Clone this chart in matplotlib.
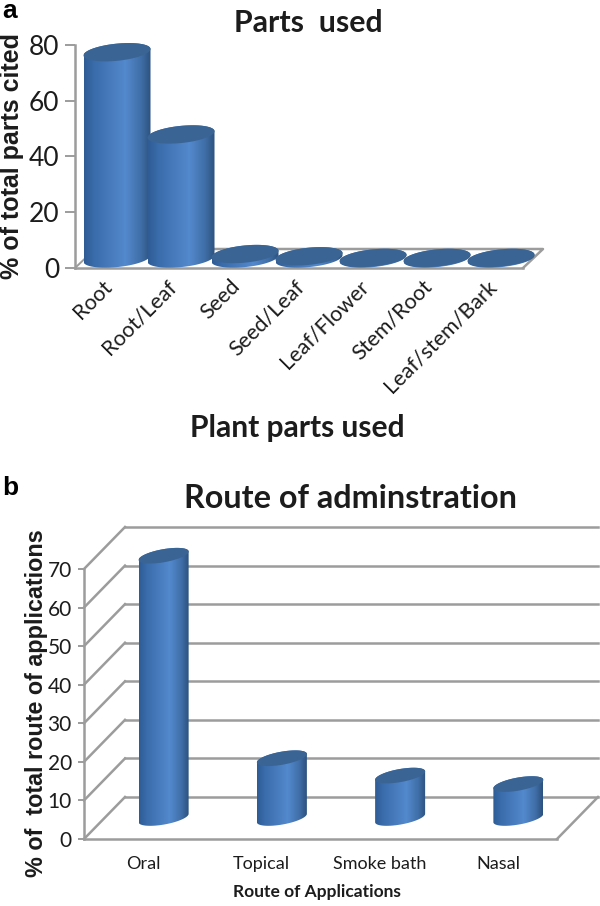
import numpy as np
import matplotlib
matplotlib.use("Agg")
import matplotlib.pyplot as plt
from matplotlib.colors import LinearSegmentedColormap
from matplotlib.patches import PathPatch
from matplotlib.path import Path
from matplotlib.transforms import ScaledTranslation

parts = ["Root", "Root/Leaf", "Seed", "Seed/Leaf", "Leaf/Flower", "Stem/Root", "Leaf/stem/Bark"]
parts_pct = [74, 44.5, 1.6, 0.8, 0.2, 0.2, 0.2]
parts_ticks = [0, 20, 40, 60, 80]

routes = ["Oral", "Topical", "Smoke bath", "Nasal"]
routes_pct = [68, 15.5, 11, 8.8]
routes_ticks = [0, 10, 20, 30, 40, 50, 60, 70]

W, H = 600, 906
GRAY = "#9c9c9c"
TEXT = "#1c1c1c"
SANS = "Lato"
ARIAL = "Liberation Sans"
cmap = LinearSegmentedColormap.from_list(
    "cyl", [(0, "#2f5c95"), (0.15, "#3a6cab"), (0.62, "#5389cd"), (0.85, "#406fa8"), (1, "#2c527f")])
TOP = "#3a6494"

fig = plt.figure(figsize=(W / 100, H / 100), dpi=100, facecolor="white")


def make_axes(x0, x1, y_top, y_bottom, n, ymax, ticks):
    ax = fig.add_axes([x0 / W, 1 - y_bottom / H, (x1 - x0) / W, (y_bottom - y_top) / H])
    ax.set_xlim(-0.5, n - 0.5)
    ax.set_ylim(0, ymax)
    ax.patch.set_alpha(0)
    for s in ("top", "right"):
        ax.spines[s].set_visible(False)
    for s in ("left", "bottom"):
        ax.spines[s].set_color(GRAY)
        ax.spines[s].set_linewidth(1.8)
    ax.set_yticks(ticks)
    return ax


def cylinder(ax, x, v, base, hw, b, s, ppx, ppy):
    """Tilted cylinder. hw/b/s in px, ppx/ppy = px per data unit."""
    t = np.linspace(0, 2 * np.pi, 121)
    ex = hw * np.cos(t) / ppx
    ey = (b * np.sin(t) + s * np.cos(t)) / ppy
    top_y = base + v
    low = np.linspace(np.pi, 2 * np.pi, 61)
    up = np.linspace(0, np.pi, 61)
    bx = np.r_[x + hw * np.cos(low) / ppx, x + hw * np.cos(up) / ppx]
    by = np.r_[base + (b * np.sin(low) + s * np.cos(low)) / ppy,
               top_y + (b * np.sin(up) + s * np.cos(up)) / ppy]
    body = PathPatch(Path(np.c_[bx, by]), fc="none", ec="none", transform=ax.transData, clip_on=False)
    ax.add_patch(body)
    im = ax.imshow(np.linspace(0, 1, 128)[None, :], cmap=cmap, aspect="auto",
                   extent=[x - hw / ppx, x + hw / ppx, base - 30 / ppy, top_y + 30 / ppy],
                   zorder=3, interpolation="bilinear")
    im.set_clip_box(fig.bbox)
    im.set_clip_path(body)
    ax.fill(x + ex, top_y + ey, color=TOP, lw=0, zorder=3.1, clip_on=False)


# ---------- panel a ----------
ax = make_axes(75, 523, 45, 268, len(parts), 80, parts_ticks)
ppx, ppy = 64.0, 223 / 80
ddx, ddy = 20 / ppx, 19 / ppy
x_end = len(parts) - 0.5
ax.plot([-0.5, -0.5 + ddx], [0, ddy], color=GRAY, lw=1.4, clip_on=False, zorder=1)
ax.plot([-0.5 + ddx, x_end + ddx, x_end], [ddy, ddy, 0], color=GRAY, lw=1.8, clip_on=False, zorder=1)
for i, v in enumerate(parts_pct):
    cylinder(ax, i + ddx / 2, v, ddy / 2, 33.5, 8.6, 3.2, ppx, ppy)
ax.set_xlim(-0.5, x_end)
ax.set_ylim(0, 80)
ax.tick_params(axis="y", length=10 * 0.72, width=1.4, color=GRAY, pad=4.3, labelsize=19, labelcolor=TEXT)
for l in ax.get_yticklabels():
    l.set_family(SANS)
    l.set_va("center_baseline")
ax.set_xticks(range(len(parts)))
ax.set_xticklabels(parts, rotation=45, ha="right", va="top", rotation_mode="anchor",
                   family=SANS, fontsize=15.5, color=TEXT)
ax.tick_params(axis="x", length=0, pad=6)
shift = ScaledTranslation(-5 / 100, 0, fig.dpi_scale_trans)
for l in ax.get_xticklabels():
    l.set_transform(l.get_transform() + shift)

fig.text(308 / W, 1 - 23 / H, "Parts  used", family=SANS, weight="bold", fontsize=21.8,
         ha="center", va="center", color=TEXT)
fig.text(297 / W, 1 - 428 / H, "Plant parts used", family=SANS, weight="bold", fontsize=21.6,
         ha="center", va="center", color=TEXT)
fig.text(12.5 / W, 1 - 156 / H, "% of total parts cited", family=ARIAL, weight="bold", fontsize=18,
         rotation=90, ha="center", va="center", color=TEXT)
fig.text(2 / W, 1 - 18 / H, "a", family=ARIAL, weight="bold", fontsize=19,
         ha="left", va="baseline", color="black")

# ---------- panel b ----------
ax2 = make_axes(84, 557, 569, 839, len(routes), 70, routes_ticks)
ppx2, ppy2 = 473 / 4, 270 / 70
ddx2, ddy2 = 41 / ppx2, 42 / ppy2
x_end2 = len(routes) - 0.5
for v in routes_ticks:
    if v == 0:
        ax2.plot([-0.5, -0.5 + ddx2], [0, ddy2], color=GRAY, lw=1.8, clip_on=False, zorder=1)
        ax2.plot([x_end2, x_end2 + ddx2], [0, ddy2], color=GRAY, lw=1.8, clip_on=False, zorder=1)
    else:
        ax2.plot([-0.5, -0.5 + ddx2], [v, v + ddy2], color=GRAY, lw=1.8, clip_on=False, zorder=1)
    ax2.plot([-0.5 + ddx2, x_end2 + ddx2], [v + ddy2, v + ddy2], color=GRAY, lw=1.8, clip_on=False, zorder=1)
for i, v in enumerate(routes_pct):
    cylinder(ax2, i + ddx2 / 2, v, ddy2 / 2, 25, 6.6, 4.2, ppx2, ppy2)
ax2.set_xlim(-0.5, x_end2)
ax2.set_ylim(0, 70)
ax2.tick_params(axis="y", length=6 * 0.72, width=1.4, color=GRAY, pad=4.5, labelsize=15, labelcolor=TEXT)
for l in ax2.get_yticklabels():
    l.set_family(SANS)
    l.set_va("center_baseline")
ax2.set_xticks(range(len(routes)))
ax2.set_xticklabels(routes, family=SANS, fontsize=13, color=TEXT)
ax2.tick_params(axis="x", length=0, pad=12)

fig.text(351 / W, 1 - 498 / H, "Route of adminstration", family=SANS, weight="bold", fontsize=23.3,
         ha="center", va="center", color=TEXT)
fig.text(317 / W, 1 - 892 / H, "Route of Applications", family=SANS, weight="bold", fontsize=12.5,
         ha="center", va="center", color=TEXT)
fig.text(36.5 / W, 1 - 703 / H, "% of  total route of applications", family=ARIAL, weight="bold", fontsize=16.8,
         rotation=90, ha="center", va="center", color=TEXT)
fig.text(2 / W, 1 - 495 / H, "b", family=ARIAL, weight="bold", fontsize=19,
         ha="left", va="baseline", color="black")

fig.savefig("out.png", dpi=100, facecolor="white")
